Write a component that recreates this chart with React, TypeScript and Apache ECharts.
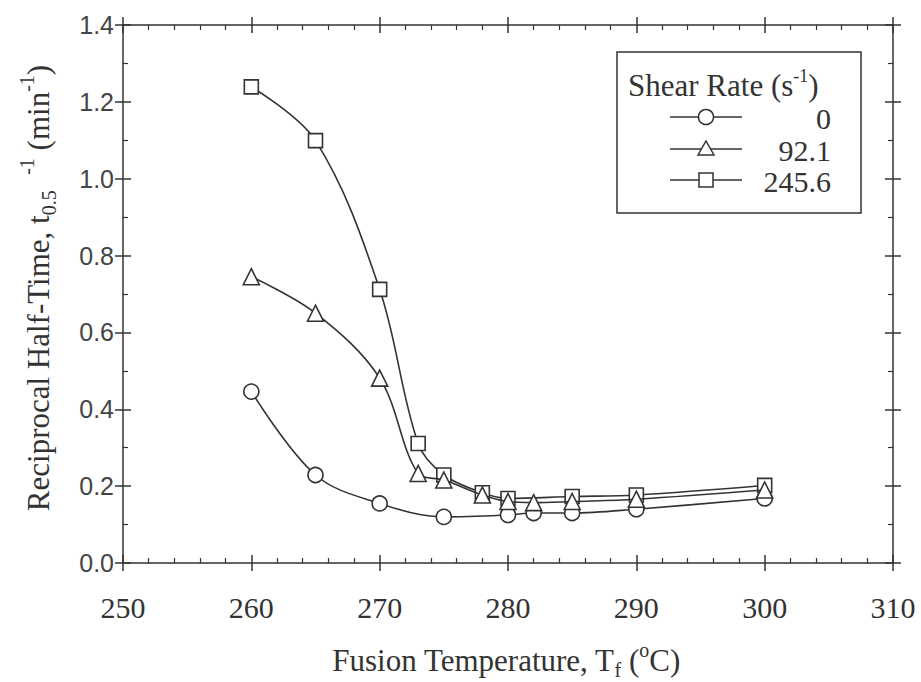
import React, { useEffect, useRef } from "react";
import * as echarts from "echarts";

const xTicks = [250, 260, 270, 280, 290, 300, 310];
const yTicks = [0.0, 0.2, 0.4, 0.6, 0.8, 1.0, 1.2, 1.4];

const legendTitle = "Shear Rate";
const seriesNames = ["0", "92.1", "245.6"];

const temps0 = [260, 265, 270, 275, 280, 282, 285, 290, 300];
const rate0 = [0.446, 0.229, 0.155, 0.12, 0.125, 0.13, 0.13, 0.14, 0.168];

const temps92 = [260, 265, 270, 273, 275, 278, 280, 282, 285, 290, 300];
const rate92 = [0.745, 0.65, 0.481, 0.233, 0.216, 0.177, 0.16, 0.157, 0.16, 0.166, 0.19];

const temps245 = [260, 265, 270, 273, 275, 278, 280, 285, 290, 300];
const rate245 = [1.239, 1.099, 0.712, 0.311, 0.229, 0.183, 0.168, 0.173, 0.177, 0.202];

const INK = "#333";
const SERIF = "'Liberation Serif', 'Times New Roman', serif";
const SANS = "'Liberation Sans', Arial, sans-serif";

export default function App() {
  const ref = useRef<HTMLDivElement>(null);
  useEffect(() => {
    if (!ref.current) return;
    const chart = echarts.init(ref.current, null, { renderer: "svg" });
    const xMin = xTicks[0];
    const xMax = xTicks[xTicks.length - 1];
    const yMin = yTicks[0];
    const yMax = yTicks[yTicks.length - 1];
    const baseX = (pos: string, labels: boolean, line: boolean, inside: boolean, minor: boolean) => ({
      type: "value",
      position: pos,
      min: xMin,
      max: xMax,
      interval: 10,
      axisLine: { show: line, onZero: false, lineStyle: { color: INK, width: 1.5 } },
      axisTick: { show: true, inside, length: 8, lineStyle: { color: INK, width: 1.5 } },
      minorTick: { show: minor, splitNumber: 5, length: 5, lineStyle: { color: INK, width: 1.2 } },
      splitLine: { show: false },
      axisLabel: {
        show: labels,
        margin: 29,
        fontFamily: SERIF,
        fontSize: 30,
        color: INK,
      },
    });
    const baseY = (pos: string, labels: boolean, line: boolean, inside: boolean, minor: boolean) => ({
      type: "value",
      position: pos,
      min: yMin,
      max: yMax,
      interval: 0.2,
      axisLine: { show: line, onZero: false, lineStyle: { color: INK, width: 1.5 } },
      axisTick: { show: true, inside, length: 8, lineStyle: { color: INK, width: 1.5 } },
      minorTick: { show: minor, splitNumber: 2, length: 5, lineStyle: { color: INK, width: 1.2 } },
      splitLine: { show: false },
      axisLabel: {
        show: labels,
        margin: 9,
        fontFamily: SANS,
        fontSize: 25,
        color: "#444",
        formatter: (v: number) => v.toFixed(1),
      },
    });
    const mk = (name: string, xs: number[], ys: number[], symbol: string, size: number, z: number) => ({
      type: "line",
      name,
      xAxisIndex: 0,
      yAxisIndex: 0,
      data: xs.map((x, i) => [x, ys[i]]),
      smooth: 0.35,
      symbol,
      symbolSize: size,
      showAllSymbol: true,
      z,
      lineStyle: { color: INK, width: 1.6 },
      itemStyle: { color: "#fff", borderColor: INK, borderWidth: 1.6 },
    });

    const lx0 = 670, lx1 = 742, lxm = 706;
    const rowY = [117, 149, 180];
    const legendGraphics: any[] = [
      {
        type: "rect",
        shape: { x: 617, y: 52, width: 244, height: 161 },
        style: { fill: "#fff", stroke: INK, lineWidth: 1.5 },
        z: 50,
      },
      {
        type: "text",
        x: 628,
        y: 84,
        z: 51,
        style: {
          text: "{a|" + legendTitle + " (s}{sup|-1}{a|)}",
          verticalAlign: "middle",
          rich: {
            a: { fontFamily: SERIF, fontSize: 31, fill: INK, lineHeight: 34, verticalAlign: "bottom" },
            sup: { fontFamily: SERIF, fontSize: 18, fill: INK, lineHeight: 34, verticalAlign: "top" },
          },
        },
      },
    ];
    seriesNames.forEach((nm, i) => {
      const y = rowY[i];
      legendGraphics.push({
        type: "line",
        z: 51,
        shape: { x1: lx0, y1: y, x2: lx1, y2: y },
        style: { stroke: INK, lineWidth: 1.5 },
      });
      if (i === 0) {
        legendGraphics.push({
          type: "circle",
          z: 52,
          shape: { cx: lxm, cy: y, r: 7.5 },
          style: { fill: "#fff", stroke: INK, lineWidth: 1.5 },
        });
      } else if (i === 1) {
        legendGraphics.push({
          type: "polygon",
          z: 52,
          shape: { points: [[lxm, y - 8], [lxm + 8, y + 6], [lxm - 8, y + 6]] },
          style: { fill: "#fff", stroke: INK, lineWidth: 1.5 },
        });
      } else {
        legendGraphics.push({
          type: "rect",
          z: 52,
          shape: { x: lxm - 7, y: y - 7, width: 14, height: 14 },
          style: { fill: "#fff", stroke: INK, lineWidth: 1.5 },
        });
      }
      legendGraphics.push({
        type: "text",
        z: 51,
        x: 831,
        y: y + 1,
        style: {
          text: nm,
          align: "right",
          verticalAlign: "middle",
          fontFamily: SERIF,
          fontSize: 30,
          fill: INK,
        },
      });
    });

    const xTitle = {
      type: "text",
      x: 506,
      y: 660,
      style: {
        text: "{a|Fusion Temperature, T}{sub|f}{a| (}{sup|o}{a|C)}",
        align: "center",
        verticalAlign: "middle",
        rich: {
          a: { fontFamily: SERIF, fontSize: 31, fill: INK, lineHeight: 40, verticalAlign: "middle" },
          sub: { fontFamily: SERIF, fontSize: 20, fill: INK, lineHeight: 40, verticalAlign: "bottom" },
          sup: { fontFamily: SERIF, fontSize: 20, fill: INK, lineHeight: 40, verticalAlign: "top" },
        },
      },
    };
    const yTitle = {
      type: "text",
      x: 38,
      y: 288,
      rotation: Math.PI / 2,
      style: {
        text: "{a|Reciprocal Half-Time, t}{sub|0.5}{a|  }{sup|-1}{a| (min}{sup|-1}{a|)}",
        align: "center",
        verticalAlign: "middle",
        rich: {
          a: { fontFamily: SERIF, fontSize: 31, fill: INK, lineHeight: 42, verticalAlign: "middle" },
          sub: { fontFamily: SERIF, fontSize: 20, fill: INK, lineHeight: 42, verticalAlign: "bottom" },
          sup: { fontFamily: SERIF, fontSize: 20, fill: INK, lineHeight: 42, verticalAlign: "top" },
        },
      },
    };

    chart.setOption({
      animation: false,
      backgroundColor: "#fff",
      grid: { left: 123, right: 28, top: 25, bottom: 119, containLabel: false },
      xAxis: [
        baseX("bottom", true, true, true, true),
        baseX("bottom", false, false, false, false),
        baseX("top", false, true, true, true),
        baseX("top", false, false, false, false),
      ],
      yAxis: [
        baseY("left", true, true, true, true),
        baseY("left", false, false, false, false),
        baseY("right", false, true, true, true),
        baseY("right", false, false, false, false),
      ],
      series: [
        mk(seriesNames[0], temps0, rate0, "circle", 15, 2),
        mk(seriesNames[2], temps245, rate245, "rect", 14, 3),
        mk(seriesNames[1], temps92, rate92, "triangle", 16, 4),
      ],
      graphic: [...legendGraphics, xTitle, yTitle],
    });
    return () => chart.dispose();
  }, []);
  return <div ref={ref} style={{ width: 921, height: 682, position: "absolute", left: 0, top: 0 }} />;
}
